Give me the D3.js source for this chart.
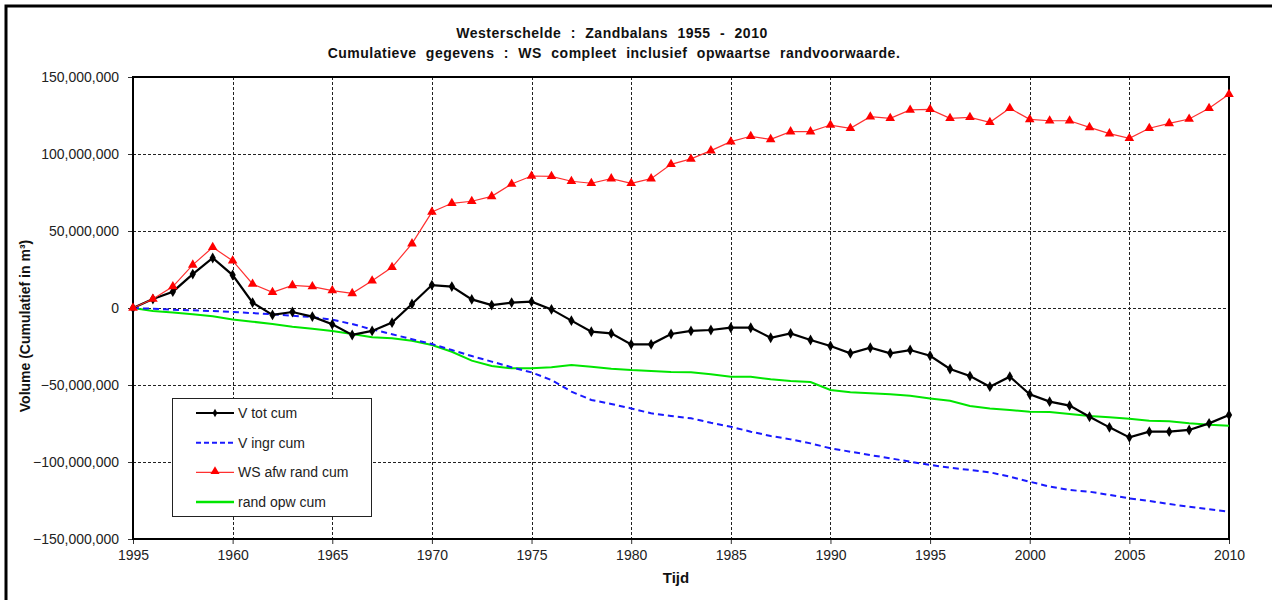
<!DOCTYPE html>
<html>
<head>
<meta charset="utf-8">
<title>Westerschelde : Zandbalans 1955 - 2010</title>
<script src="https://cdn.jsdelivr.net/npm/d3@7"></script>
<style>
  html, body { margin: 0; padding: 0; background: #fff; }
  svg { display: block; font-family: Arial, "Liberation Sans", sans-serif; }
</style>
</head>
<body>
<svg id="chart" width="1272" height="600"></svg>
<script>
(function () {
  'use strict';

  // jaren (categorieen langs de x-as)
  var years = [
    1955, 1956, 1957, 1958, 1959, 1960, 1961, 1962, 1963, 1964,
    1965, 1966, 1967, 1968, 1969, 1970, 1971, 1972, 1973, 1974,
    1975, 1976, 1977, 1978, 1979, 1980, 1981, 1982, 1983, 1984,
    1985, 1986, 1987, 1988, 1989, 1990, 1991, 1992, 1993, 1994,
    1995, 1996, 1997, 1998, 1999, 2000, 2001, 2002, 2003, 2004,
    2005, 2006, 2007, 2008, 2009, 2010
  ];

  var vTotCum = [
    0, 5.8, 10.6, 22, 32.5, 21.4, 3.5, -4.5, -2.6, -5.6,
    -10.6, -17.5, -14.9, -9.5, 2.6, 14.9, 13.9, 5.6, 1.9, 3.5,
    4.1, -0.9, -8.2, -15.4, -16.5, -23.6, -23.6, -16.9, -14.9, -14.3,
    -12.8, -12.8, -19.3, -16.5, -20.8, -24.7, -29.4, -25.8, -29.4, -27.3,
    -31, -39.6, -44.2, -51.1, -44.6, -56, -60.8, -63.4, -70.6, -77.5,
    -84, -80.3, -80.3, -79.2, -74.9, -69.5
  ];
  var vIngrCum = [
    0, -0.5, -1.1, -1.5, -2, -2.6, -3.3, -4.1, -5, -5.9,
    -7.6, -10.4, -13.9, -17, -20.3, -23.4, -27.3, -31.2, -34.8, -38.5,
    -41.8, -46.8, -54.3, -59.7, -62.3, -65.2, -68.4, -70.1, -71.6, -74.5,
    -77.1, -80.3, -83.1, -85.3, -87.9, -91.1, -93.3, -95.5, -97.6, -99.8,
    -101.9, -103.7, -105.2, -106.7, -109.5, -112.8, -116, -118.2, -119.3, -121.4,
    -123.6, -125.3, -127.3, -129, -130.7, -132.3
  ];
  var wsAfwRandCum = [
    0, 5.8, 13.9, 28, 39.4, 30.7, 15.6, 10.2, 14.7, 13.9,
    11.3, 9.5, 17.7, 26.4, 41.8, 62.3, 68, 69.3, 72.5, 80.5,
    85.7, 85.5, 82.3, 81, 84, 81, 84, 93.3, 96.8, 102.2,
    108, 111.5, 109.5, 114.5, 114.5, 118.8, 116.7, 124.2, 123.2, 128.6,
    129, 123.2, 123.8, 120.6, 129.7, 122.5, 121.6, 121.6, 117.3, 113.2,
    110.2, 116.7, 119.9, 122.7, 129.7, 138.8
  ];
  var randOpwCum = [
    0, -2, -3, -4.1, -5.4, -7.4, -8.9, -10.4, -12.1, -13.4,
    -14.9, -16.9, -19, -19.7, -21.2, -24, -28.4, -34.2, -37.7, -39.2,
    -39.2, -38.5, -37, -38.1, -39.4, -40.3, -40.9, -41.6, -41.8, -43,
    -44.6, -44.6, -46.3, -47.4, -48.1, -53.2, -54.7, -55.4, -56, -57,
    -58.7, -60.2, -63.6, -65.2, -66.2, -67.3, -67.5, -68.8, -70.1, -71,
    -71.9, -73.2, -73.6, -74.9, -75.8, -76.4
  ];

  var xTickValues = [1955, 1960, 1965, 1970, 1975, 1980, 1985, 1990, 1995, 2000, 2005, 2010];
  var xTickLabels = ['1995', '1960', '1965', '1970', '1975', '1980', '1985', '1990', '1995', '2000', '2005', '2010'];
  var yTickValues = [150, 100, 50, 0, -50, -100, -150];

  var seriesNames = ['V tot cum', 'V ingr cum', 'WS afw rand cum', 'rand opw cum'];

  var svg = d3.select('#chart'),
      left = 133, right = 1229, top = 77, bottom = 539;

  var x = d3.scaleLinear().domain([1955, 2010]).range([left, right]);
  var y = d3.scaleLinear().domain([-150, 150]).range([bottom, top]);
  var fmt = d3.format(',');

  // buitenkader
  svg.append('rect')
    .attr('x', 6).attr('y', 6)
    .attr('width', 1300).attr('height', 700)
    .attr('fill', 'none')
    .attr('stroke', '#000')
    .attr('stroke-width', 3);

  // titels
  var title = svg.append('g')
    .attr('font-weight', 'bold')
    .attr('font-size', 14)
    .attr('text-anchor', 'middle')
    .attr('fill', '#111')
    .attr('word-spacing', 5)
    .attr('letter-spacing', 0.5);
  title.append('text')
    .attr('x', 612).attr('y', 38)
    .text('Westerschelde : Zandbalans 1955 - 2010');
  title.append('text')
    .attr('x', 614).attr('y', 58)
    .text('Cumulatieve gegevens : WS compleet inclusief opwaartse randvoorwaarde.');

  // rasterlijnen
  var grid = svg.append('g')
    .attr('stroke', '#222')
    .attr('stroke-width', 1)
    .attr('stroke-dasharray', '3,2');
  grid.selectAll('line.h')
    .data(yTickValues.filter(function (d) { return d !== 150 && d !== -150; }))
    .enter().append('line')
      .attr('class', 'h')
      .attr('x1', left).attr('x2', right)
      .attr('y1', function (d) { return Math.round(y(d)) + 0.5; })
      .attr('y2', function (d) { return Math.round(y(d)) + 0.5; });
  grid.selectAll('line.v')
    .data(xTickValues.slice(1, -1))
    .enter().append('line')
      .attr('class', 'v')
      .attr('y1', top).attr('y2', bottom)
      .attr('x1', function (d) { return Math.round(x(d)) + 0.5; })
      .attr('x2', function (d) { return Math.round(x(d)) + 0.5; });

  // assen
  var yAxis = svg.append('g')
    .attr('transform', 'translate(' + left + ',0)')
    .call(d3.axisLeft(y)
      .tickValues(yTickValues)
      .tickSize(5)
      .tickPadding(9)
      .tickFormat(function (d) { return fmt(d * 1e6); }));
  var xAxis = svg.append('g')
    .attr('transform', 'translate(0,' + bottom + ')')
    .call(d3.axisBottom(x)
      .tickValues(xTickValues)
      .tickSize(5)
      .tickPadding(6)
      .tickFormat(function (d, i) { return xTickLabels[i]; }));
  [yAxis, xAxis].forEach(function (ax) {
    ax.select('.domain').remove();
    ax.selectAll('text')
      .attr('font-size', 14)
      .attr('font-family', 'Arial, "Liberation Sans", sans-serif')
      .attr('fill', '#222');
    ax.selectAll('line').attr('stroke', '#333');
  });

  svg.append('rect')
    .attr('x', left).attr('y', top)
    .attr('width', right - left).attr('height', bottom - top)
    .attr('fill', 'none')
    .attr('stroke', '#000')
    .attr('stroke-width', 2);

  svg.append('text')
    .attr('transform', 'translate(30,326) rotate(-90)')
    .attr('text-anchor', 'middle')
    .attr('font-size', 14)
    .attr('font-weight', 'bold')
    .attr('fill', '#111')
    .text('Volume (Cumulatief in m³)');
  svg.append('text')
    .attr('x', 676).attr('y', 583)
    .attr('text-anchor', 'middle')
    .attr('font-size', 15)
    .attr('font-weight', 'bold')
    .attr('fill', '#111')
    .text('Tijd');

  // lijnen
  var line = d3.line()
    .x(function (d, i) { return x(years[i]); })
    .y(function (d) { return y(d); });

  var plot = svg.append('g');

  plot.append('path')
    .datum(randOpwCum)
    .attr('d', line)
    .attr('fill', 'none')
    .attr('stroke', '#00e600')
    .attr('stroke-width', 2);

  plot.append('path')
    .datum(vIngrCum)
    .attr('d', line)
    .attr('fill', 'none')
    .attr('stroke', '#1a1aff')
    .attr('stroke-width', 2)
    .attr('stroke-dasharray', '6,4');

  plot.append('path')
    .datum(vTotCum)
    .attr('d', line)
    .attr('fill', 'none')
    .attr('stroke', '#000')
    .attr('stroke-width', 2.2);

  plot.selectAll('path.dia')
    .data(vTotCum)
    .enter().append('path')
      .attr('class', 'dia')
      .attr('d', d3.symbol().type(d3.symbolDiamond).size(34))
      .attr('transform', function (d, i) {
        return 'translate(' + x(years[i]) + ',' + y(d) + ')';
      })
      .attr('fill', '#000');

  plot.append('path')
    .datum(wsAfwRandCum)
    .attr('d', line)
    .attr('fill', 'none')
    .attr('stroke', '#ff3030')
    .attr('stroke-width', 1.2);

  plot.selectAll('path.tri')
    .data(wsAfwRandCum)
    .enter().append('path')
      .attr('class', 'tri')
      .attr('d', d3.symbol().type(d3.symbolTriangle).size(40))
      .attr('transform', function (d, i) {
        return 'translate(' + x(years[i]) + ',' + y(d) + ')';
      })
      .attr('fill', '#ff0000');

  // legenda
  var legend = svg.append('g').attr('transform', 'translate(172,398)');
  legend.append('rect')
    .attr('x', 0.5).attr('y', 0.5)
    .attr('width', 199).attr('height', 118)
    .attr('fill', '#fff')
    .attr('stroke', '#222')
    .attr('stroke-width', 1);

  var rows = legend.selectAll('g.row')
    .data(seriesNames)
    .enter().append('g')
      .attr('class', 'row')
      .attr('transform', function (d, i) { return 'translate(0,' + (15 + i * 29.7) + ')'; });

  var legendStyles = [
    { stroke: '#000', width: 2, dash: null },
    { stroke: '#1a1aff', width: 2, dash: '5,3' },
    { stroke: '#ff3030', width: 1.2, dash: null },
    { stroke: '#00e600', width: 2.5, dash: null }
  ];
  rows.append('line')
    .attr('x1', 24).attr('x2', 62)
    .attr('y1', 0).attr('y2', 0)
    .attr('stroke', function (d, i) { return legendStyles[i].stroke; })
    .attr('stroke-width', function (d, i) { return legendStyles[i].width; })
    .attr('stroke-dasharray', function (d, i) { return legendStyles[i].dash; });
  rows.filter(function (d, i) { return i === 0; })
    .append('path')
      .attr('d', d3.symbol().type(d3.symbolDiamond).size(20))
      .attr('transform', 'translate(43,0)')
      .attr('fill', '#000');
  rows.filter(function (d, i) { return i === 2; })
    .append('path')
      .attr('d', d3.symbol().type(d3.symbolTriangle).size(36))
      .attr('transform', 'translate(43,-1)')
      .attr('fill', '#ff0000');
  rows.append('text')
    .attr('x', 66).attr('y', 5)
    .attr('font-size', 14)
    .attr('fill', '#222')
    .text(function (d) { return d; });
}());
</script>
</body>
</html>
